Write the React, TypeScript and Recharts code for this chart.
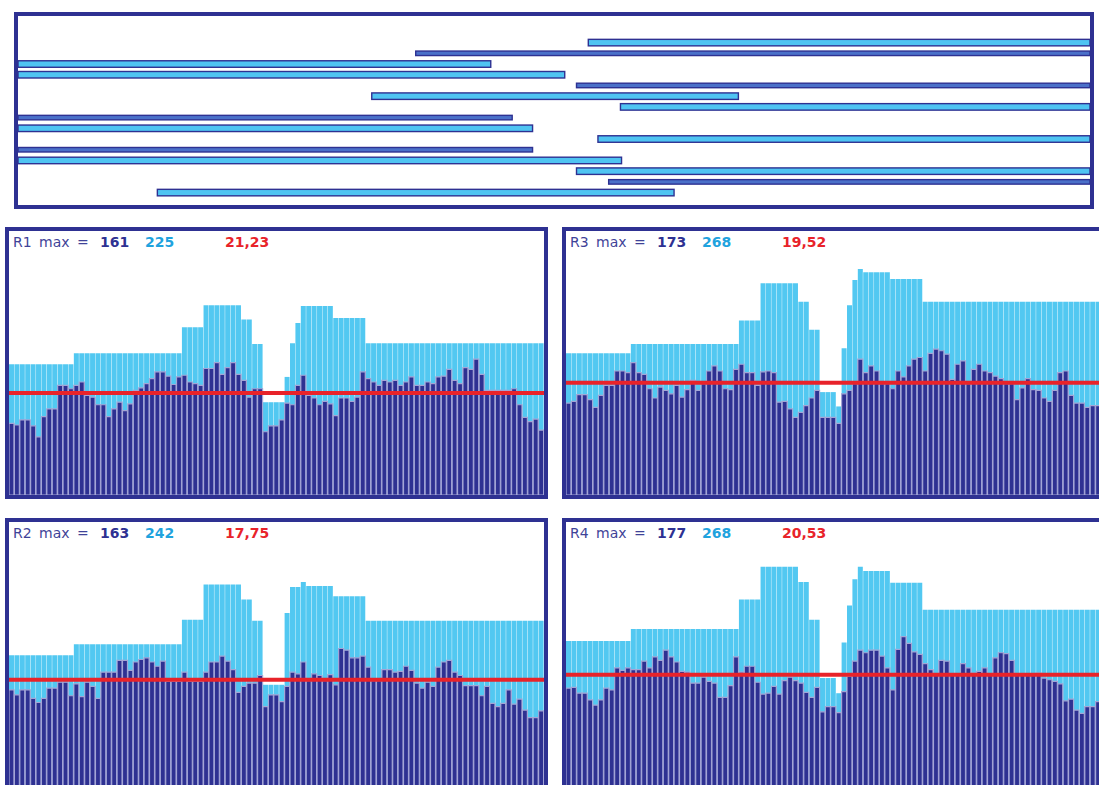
import { BarChart, Bar, XAxis, YAxis, ReferenceLine } from 'recharts';

const NAVY = '#2e3192';
const CYAN = '#52c8f1';
const LAV = '#a3a5d6';
const RED = '#e8232a';

// top panel: time intervals (percent of span)
const topNames = ['a1', 'a2', 'a3', 'a4', 'a5', 'a6', 'a7', 'a8', 'a9', 'a10', 'a11', 'a12', 'a13', 'a14', 'a15'];
const topStart = [53.2, 37.1, 0, 0, 52.1, 33.0, 56.2, 0, 0, 54.1, 0, 0, 52.1, 55.1, 13.0];
const topEnd = [100, 100, 44.1, 51.0, 100, 67.2, 100, 46.1, 48.0, 100, 48.0, 56.3, 100, 100, 61.2];
const topKind = ['light', 'dark', 'light', 'light', 'dark', 'light', 'light', 'dark', 'light', 'light', 'dark', 'light', 'light', 'dark', 'light'];

// panel headers
const panelNames = ['R1', 'R2', 'R3', 'R4'];
const panelMaxDark = ['161', '163', '173', '177'];
const panelMaxLight = ['225', '242', '268', '268'];
const panelRatio = ['21,23', '17,75', '19,52', '20,53'];
const panelLevel = [121, 126, 133, 132];

const r1Bars = [
  85, 83, 89, 89, 82, 69, 93, 102, 102, 130,
  130, 126, 130, 134, 118, 116, 107, 107, 93, 102,
  110, 100, 108, 124, 127, 132, 138, 146, 146, 141,
  131, 140, 142, 134, 132, 130, 150, 150, 157, 143,
  151, 157, 143, 136, 116, 126, 126, 75, 82, 82,
  89, 109, 107, 130, 142, 118, 115, 107, 111, 108,
  94, 115, 115, 111, 116, 146, 138, 134, 130, 136,
  134, 136, 130, 134, 140, 130, 130, 134, 132, 140,
  141, 149, 136, 132, 151, 149, 161, 143, 124, 124,
  124, 124, 124, 126, 107, 92, 87, 90, 77,
];
const r1Light = [
  155, 155, 155, 155, 155, 155, 155, 155, 155, 155, 155, 155,
  168, 168, 168, 168, 168, 168, 168, 168, 168, 168, 168, 168, 168, 168, 168, 168, 168, 168, 168, 168,
  199, 199, 199, 199,
  225, 225, 225, 225, 225, 225, 225,
  208, 208, 179, 179,
  110, 110, 110, 110, 140, 180, 204,
  224, 224, 224, 224, 224, 224,
  210, 210, 210, 210, 210, 210,
  180, 180, 180, 180, 180, 180, 180, 180, 180, 180, 180, 180, 180, 180, 180, 180, 180,
  180, 180, 180, 180, 180, 180, 180, 180, 180, 180, 180, 180, 180, 180, 180, 180,
];

const r2Bars = [
  114, 108, 114, 114, 104, 99, 104, 116, 116, 123,
  123, 107, 121, 106, 123, 118, 104, 135, 135, 135,
  149, 149, 137, 147, 150, 152, 147, 142, 148, 124,
  124, 124, 135, 124, 124, 124, 135, 147, 147, 154,
  148, 138, 111, 118, 122, 122, 131, 94, 108, 108,
  100, 118, 135, 133, 147, 125, 133, 131, 125, 132,
  120, 163, 161, 152, 152, 154, 141, 125, 125, 138,
  138, 135, 136, 142, 137, 122, 116, 123, 118, 141,
  147, 149, 135, 131, 119, 119, 119, 107, 118, 98,
  94, 98, 114, 97, 103, 90, 81, 81, 89,
];
const r2Light = [
  155, 155, 155, 155, 155, 155, 155, 155, 155, 155, 155, 155,
  168, 168, 168, 168, 168, 168, 168, 168, 168, 168, 168, 168, 168, 168, 168, 168, 168, 168, 168, 168,
  197, 197, 197, 197,
  239, 239, 239, 239, 239, 239, 239,
  221, 221, 196, 196,
  120, 120, 120, 120, 205, 236, 236, 242,
  237, 237, 237, 237, 237,
  225, 225, 225, 225, 225, 225,
  196, 196, 196, 196, 196, 196, 196, 196, 196, 196, 196, 196, 196, 196, 196, 196, 196,
  196, 196, 196, 196, 196, 196, 196, 196, 196, 196, 196, 196, 196, 196, 196, 196,
];

const r3Bars = [
  109, 111, 119, 119, 113, 104, 118, 130, 130, 147,
  147, 145, 157, 145, 143, 126, 115, 128, 124, 120,
  130, 116, 125, 136, 124, 132, 147, 153, 147, 126,
  125, 149, 155, 145, 145, 130, 146, 147, 145, 110,
  111, 102, 92, 98, 106, 115, 124, 92, 92, 92,
  85, 120, 124, 132, 161, 145, 153, 147, 132, 132,
  126, 147, 140, 153, 161, 163, 147, 168, 173, 171,
  167, 137, 155, 159, 132, 149, 155, 147, 145, 141,
  138, 132, 132, 113, 127, 138, 125, 124, 115, 111,
  124, 145, 147, 118, 109, 109, 104, 106, 106,
];
const r3Light = [
  168, 168, 168, 168, 168, 168, 168, 168, 168, 168, 168, 168,
  179, 179, 179, 179, 179, 179, 179, 179, 179, 179, 179, 179, 179, 179, 179, 179, 179, 179, 179, 179,
  207, 207, 207, 207,
  251, 251, 251, 251, 251, 251, 251,
  229, 229, 196, 196,
  122, 122, 122, 105, 174, 225, 255, 268,
  264, 264, 264, 264, 264,
  256, 256, 256, 256, 256, 256,
  229, 229, 229, 229, 229, 229, 229, 229, 229, 229, 229, 229, 229, 229, 229, 229, 229,
  229, 229, 229, 229, 229, 229, 229, 229, 229, 229, 229, 229, 229, 229, 229, 229,
];

const r4Bars = [
  116, 117, 110, 110, 102, 96, 102, 116, 114, 140,
  137, 140, 138, 138, 148, 140, 153, 149, 161, 153,
  147, 136, 135, 122, 122, 129, 124, 122, 105, 105,
  119, 153, 135, 142, 142, 123, 109, 110, 118, 109,
  125, 129, 125, 122, 111, 105, 117, 88, 94, 94,
  87, 112, 130, 148, 161, 158, 161, 161, 154, 140,
  114, 162, 177, 169, 159, 156, 145, 138, 132, 149,
  148, 132, 132, 145, 140, 134, 136, 140, 131, 152,
  158, 157, 149, 132, 131, 131, 131, 134, 128, 126,
  124, 121, 101, 103, 90, 86, 94, 94, 100,
];
const r4Light = [
  172, 172, 172, 172, 172, 172, 172, 172, 172, 172, 172, 172,
  186, 186, 186, 186, 186, 186, 186, 186, 186, 186, 186, 186, 186, 186, 186, 186, 186, 186, 186, 186,
  221, 221, 221, 221,
  260, 260, 260, 260, 260, 260, 260,
  242, 242, 197, 197,
  128, 128, 128, 110, 170, 214, 245, 260,
  255, 255, 255, 255, 255,
  241, 241, 241, 241, 241, 241,
  209, 209, 209, 209, 209, 209, 209, 209, 209, 209, 209, 209, 209, 209, 209, 209, 209,
  209, 209, 209, 209, 209, 209, 209, 209, 209, 209, 209, 209, 209, 209, 209, 209,
];

const topData = topNames.map((name, i) => ({ name, range: [topStart[i], topEnd[i]], kind: topKind[i] }));

const TopShape = (props: any) => {
  const { x, y, width, height, payload } = props;
  const dark = payload.kind === 'dark';
  const h = dark ? 4.5 : 6.5;
  const cy = y + height / 2;
  return (
    <rect x={x} y={cy - h / 2} width={width} height={h}
      fill={dark ? '#4a70c9' : '#4fc4f2'} stroke={NAVY} strokeWidth={1.4} />
  );
};

function Panel({ idx, left, top, bars, light }: { idx: number; left: number; top: number; bars: number[]; light: number[] }) {
  const data = bars.map((v, i) => ({ i: i + 1, dark: v, light: light[i] }));
  const txt = { position: 'absolute' as const, top: 4, fontSize: 14, lineHeight: '14px', whiteSpace: 'nowrap' as const };
  return (
    <div style={{ position: 'absolute', left, top, width: 535, height: 264, border: `4px solid ${NAVY}` }}>
      <BarChart width={535} height={264} data={data} margin={{ top: 0, right: 0, bottom: 0, left: 0 }}
        barCategoryGap={0} barGap={0}>
        <XAxis xAxisId="l" dataKey="i" hide />
        <XAxis xAxisId="d" dataKey="i" hide />
        <YAxis domain={[0, 313]} hide />
        <Bar xAxisId="l" dataKey="light" fill={CYAN} isAnimationActive={false} />
        <Bar xAxisId="d" dataKey="dark" fill={NAVY} stroke={LAV} strokeWidth={1.2} isAnimationActive={false} />
        <ReferenceLine xAxisId="d" y={panelLevel[idx]} stroke={RED} strokeWidth={4} />
      </BarChart>
      <span style={{ ...txt, left: 4, color: '#3f4398', wordSpacing: 3 }}>{panelNames[idx]} max =</span>
      <span style={{ ...txt, left: 91, color: NAVY, fontWeight: 'bold' }}>{panelMaxDark[idx]}</span>
      <span style={{ ...txt, left: 136, color: '#1fa3de', fontWeight: 'bold' }}>{panelMaxLight[idx]}</span>
      <span style={{ ...txt, left: 216, color: RED, fontWeight: 'bold' }}>{panelRatio[idx]}</span>
    </div>
  );
}

export default function App() {
  return (
    <div style={{ position: 'absolute', left: 0, top: 0, width: 1099, height: 785, overflow: 'hidden',
      background: '#fff', fontFamily: '"DejaVu Sans", Verdana, sans-serif' }}>
      <div style={{ position: 'absolute', left: 14, top: 12, width: 1072, height: 189, border: `4px solid ${NAVY}` }}>
        <BarChart layout="vertical" width={1072} height={189} data={topData}
          margin={{ top: 21.6, right: 0, bottom: 6.7, left: 0 }} barCategoryGap={0}>
          <XAxis type="number" domain={[0, 100]} hide />
          <YAxis type="category" dataKey="name" hide />
          <Bar dataKey="range" barSize={6} shape={TopShape} isAnimationActive={false} />
        </BarChart>
      </div>
      <Panel idx={0} left={5} top={227} bars={r1Bars} light={r1Light} />
      <Panel idx={2} left={562} top={227} bars={r3Bars} light={r3Light} />
      <Panel idx={1} left={5} top={518} bars={r2Bars} light={r2Light} />
      <Panel idx={3} left={562} top={518} bars={r4Bars} light={r4Light} />
    </div>
  );
}
